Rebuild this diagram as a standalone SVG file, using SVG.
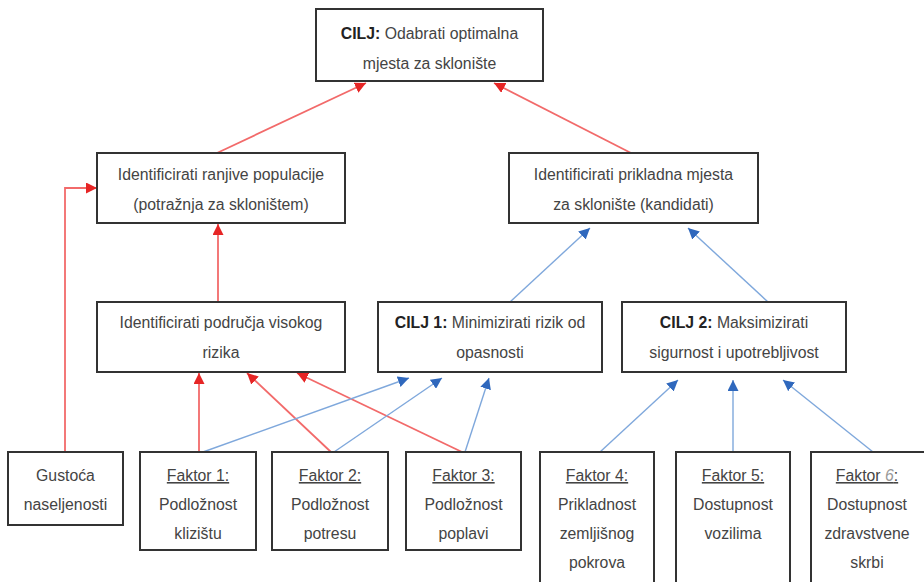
<svg xmlns="http://www.w3.org/2000/svg" width="924" height="582" viewBox="0 0 924 582">
<defs>
<style>
.box{fill:#fff;stroke:#333;stroke-width:2}
.t{font-family:"Liberation Sans",Arial,sans-serif;font-size:15.8px;fill:#444;text-anchor:middle}
.b{font-weight:bold;fill:#222}
.u{text-decoration:underline}
.r{fill:none;stroke:#f26a6a;stroke-width:1.8}
.bl{fill:none;stroke:#7fa8dc;stroke-width:1.4}
</style>
<marker id="ar" viewBox="0 0 10 10" refX="10" refY="5" markerWidth="11" markerHeight="11" markerUnits="userSpaceOnUse" orient="auto"><path d="M0,0 L10,5 L0,10 z" fill="#e62525"/></marker>
<marker id="ab" viewBox="0 0 10 10" refX="10" refY="5" markerWidth="11" markerHeight="11" markerUnits="userSpaceOnUse" orient="auto"><path d="M0,0 L10,5 L0,10 z" fill="#2f68bd"/></marker>
</defs>
<rect width="924" height="582" fill="#fff"/>
<g id="connectors">
<line class="r" x1="217" y1="153" x2="366" y2="83" marker-end="url(#ar)"/>
<line class="r" x1="631" y1="153" x2="494" y2="83" marker-end="url(#ar)"/>
<line class="r" x1="218" y1="302" x2="218" y2="224" marker-end="url(#ar)"/>
<polyline class="r" points="65,452 65,188 97,188" marker-end="url(#ar)"/>
<line class="r" x1="199" y1="452" x2="199" y2="373" marker-end="url(#ar)"/>
<line class="r" x1="331" y1="452" x2="247" y2="373" marker-end="url(#ar)"/>
<line class="r" x1="462" y1="452" x2="297" y2="373" marker-end="url(#ar)"/>
<line class="bl" x1="510" y1="302" x2="590" y2="228" marker-end="url(#ab)"/>
<line class="bl" x1="768" y1="302" x2="688" y2="228" marker-end="url(#ab)"/>
<line class="bl" x1="203" y1="452" x2="409" y2="378" marker-end="url(#ab)"/>
<line class="bl" x1="334" y1="452" x2="442" y2="378" marker-end="url(#ab)"/>
<line class="bl" x1="465" y1="452" x2="489" y2="378" marker-end="url(#ab)"/>
<line class="bl" x1="600" y1="452" x2="678" y2="380" marker-end="url(#ab)"/>
<line class="bl" x1="733" y1="452" x2="733" y2="380" marker-end="url(#ab)"/>
<line class="bl" x1="873" y1="452" x2="783" y2="380" marker-end="url(#ab)"/>
</g>
<g id="cilj">
<rect class="box" x="316" y="9" width="227" height="72"/>
<text class="t" x="429.5" y="39"><tspan class="b">CILJ:</tspan> Odabrati optimalna</text>
<text class="t" x="429.5" y="69">mjesta za sklonište</text>
</g>
<g id="ranjive">
<rect class="box" x="97" y="153" width="248" height="70"/>
<text class="t" x="221" y="180">Identificirati ranjive populacije</text>
<text class="t" x="221" y="210">(potražnja za skloništem)</text>
</g>
<g id="prikladna">
<rect class="box" x="509" y="153" width="249" height="70"/>
<text class="t" x="633.5" y="180">Identificirati prikladna mjesta</text>
<text class="t" x="633.5" y="210">za sklonište (kandidati)</text>
</g>
<g id="podrucja">
<rect class="box" x="97" y="302" width="248" height="70"/>
<text class="t" x="221" y="328">Identificirati područja visokog</text>
<text class="t" x="221" y="358">rizika</text>
</g>
<g id="cilj1">
<rect class="box" x="378" y="302" width="224" height="70"/>
<text class="t" x="490" y="328"><tspan class="b">CILJ 1:</tspan> Minimizirati rizik od</text>
<text class="t" x="490" y="358">opasnosti</text>
</g>
<g id="cilj2">
<rect class="box" x="622" y="302" width="224" height="70"/>
<text class="t" x="734" y="328"><tspan class="b">CILJ 2:</tspan> Maksimizirati</text>
<text class="t" x="734" y="358">sigurnost i upotrebljivost</text>
</g>
<g id="gustoca">
<rect class="box" x="8" y="452" width="115" height="73"/>
<text class="t" x="65.5" y="481">Gustoća</text>
<text class="t" x="65.5" y="510">naseljenosti</text>
</g>
<g id="faktor1">
<rect class="box" x="140" y="452" width="116" height="98"/>
<text class="t u" x="198" y="481">Faktor 1:</text>
<text class="t" x="198" y="510">Podložnost</text>
<text class="t" x="198" y="539">klizištu</text>
</g>
<g id="faktor2">
<rect class="box" x="272" y="452" width="116" height="98"/>
<text class="t u" x="330" y="481">Faktor 2:</text>
<text class="t" x="330" y="510">Podložnost</text>
<text class="t" x="330" y="539">potresu</text>
</g>
<g id="faktor3">
<rect class="box" x="406" y="452" width="115" height="98"/>
<text class="t u" x="463.5" y="481">Faktor 3:</text>
<text class="t" x="463.5" y="510">Podložnost</text>
<text class="t" x="463.5" y="539">poplavi</text>
</g>
<g id="faktor4">
<rect class="box" x="540" y="452" width="114" height="140"/>
<text class="t u" x="597" y="481">Faktor 4:</text>
<text class="t" x="597" y="510">Prikladnost</text>
<text class="t" x="597" y="539">zemljišnog</text>
<text class="t" x="597" y="568">pokrova</text>
</g>
<g id="faktor5">
<rect class="box" x="676" y="452" width="114" height="140"/>
<text class="t u" x="733" y="481">Faktor 5:</text>
<text class="t" x="733" y="510">Dostupnost</text>
<text class="t" x="733" y="539">vozilima</text>
</g>
<g id="faktor6">
<rect class="box" x="811" y="452" width="120" height="140"/>
<text class="t u" x="867" y="481">Faktor <tspan font-style="italic" fill="#999">6</tspan>:</text>
<text class="t" x="867" y="510">Dostupnost</text>
<text class="t" x="867" y="539">zdravstvene</text>
<text class="t" x="867" y="568">skrbi</text>
</g>
</svg>
